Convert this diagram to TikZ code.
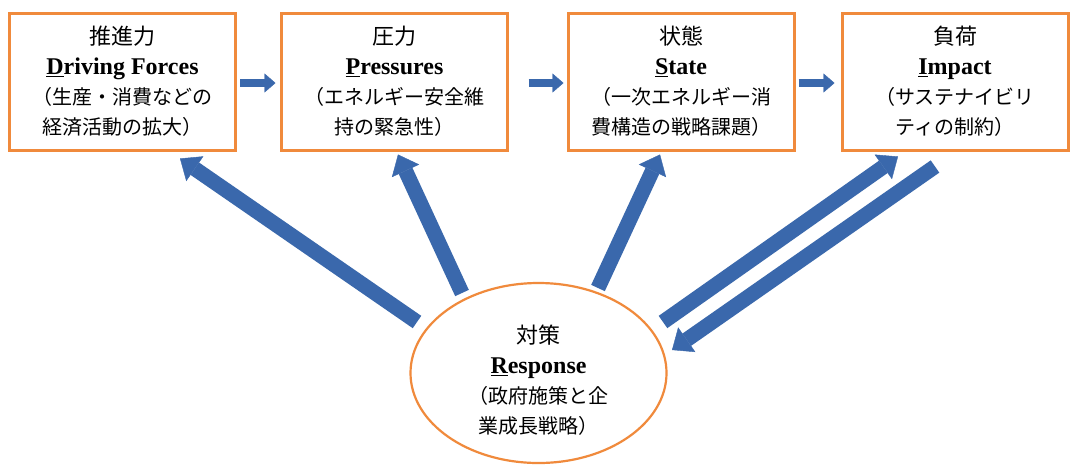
\documentclass[tikz,border=0pt]{standalone}
\usepackage{fontspec}
\setmainfont{Liberation Serif}
\newfontfamily\cjk{Noto Sans CJK JP}
\usetikzlibrary{arrows.meta,shapes.geometric,calc}
\definecolor{boxorange}{RGB}{240,138,60}
\definecolor{arrowblue}{RGB}{58,104,172}
\newcommand\jtitle[1]{{\fontsize{22}{30}\selectfont\cjk #1}}
\newcommand\etitle[1]{{\fontsize{24}{30}\selectfont\bfseries #1}}
\newcommand\jbody[1]{{\fontsize{20}{30}\selectfont\cjk #1}}
\tikzset{
  stagebox/.style={draw=boxorange, line width=3pt, fill=white,
    minimum width=226pt, minimum height=137pt, align=center, inner sep=0pt,
    font=\fontsize{20}{30}\selectfont},
  respell/.style={ellipse, draw=boxorange, line width=2.2pt, fill=white,
    minimum width=256pt, minimum height=180pt, inner sep=0pt},
  restext/.style={align=center, inner sep=0pt, font=\fontsize{20}{30}\selectfont},
  harrow/.style={draw=arrowblue, line width=7.5pt,
    -{Triangle[width=19pt,length=11pt,line width=0.4pt]}},
  darrow/.style={draw=arrowblue, line width=15pt,
    -{Triangle[width=30pt,length=18pt,line width=0.4pt]}}
}
\begin{document}
\begin{tikzpicture}
\useasboundingbox[fill=white] (0,0) rectangle (1073pt,-464pt);

\node[stagebox] (b1) at (122.5pt,-81.5pt)
  {\jtitle{推進力}\\\etitle{\underline{D}riving Forces}\\\jbody{（生産・消費などの}\\\jbody{経済活動の拡大）}};
\node[stagebox] (b2) at (394.5pt,-81.5pt)
  {\jtitle{圧力}\\\etitle{\underline{P}ressures}\\\jbody{（エネルギー安全維}\\\jbody{持の緊急性）}};
\node[stagebox] (b3) at (681pt,-81.5pt)
  {\jtitle{状態}\\\etitle{\underline{S}tate}\\\jbody{（一次エネルギー消}\\\jbody{費構造の戦略課題）}};
\node[stagebox] (b4) at (955pt,-81.5pt)
  {\jtitle{負荷}\\\etitle{\underline{I}mpact}\\\jbody{（サステナイビリ}\\\jbody{ティの制約）}};

\node[respell] (r) at (538.5pt,-373pt) {};
\node[restext] (rt) at ([yshift=-7pt]r.center)
  {\jtitle{対策}\\\etitle{\underline{R}esponse}\\\jbody{（政府施策と企}\\\jbody{業成長戦略）}};

% horizontal arrows
\draw[harrow, shorten <=3pt, shorten >=4.5pt] ([yshift=-1.5pt]b1.east) -- ([yshift=-1.5pt]b2.west);
\draw[harrow, shorten <=19.5pt, shorten >=3pt] ([yshift=-1.5pt]b2.east) -- ([yshift=-1.5pt]b3.west);
\draw[harrow, shorten <=3pt, shorten >=6pt] ([yshift=-1.5pt]b3.east) -- ([yshift=-1.5pt]b4.west);

% diagonal arrows
\coordinate (aT) at ([shift={(-121.5pt,51pt)}]r.center);
\coordinate (aH) at ([shift={(57.5pt,-7pt)}]b1.south);
\coordinate (bT) at ([shift={(-76.5pt,80pt)}]r.center);
\coordinate (bH) at ([shift={(3.5pt,-3pt)}]b2.south);
\coordinate (cT) at ([shift={(59.5pt,85pt)}]r.center);
\coordinate (cH) at ([shift={(-21pt,-3pt)}]b3.south);
\coordinate (dT) at ([shift={(124.5pt,51pt)}]r.center);
\coordinate (dH) at ([shift={(-57pt,-5pt)}]b4.south);
\coordinate (eT) at ([shift={(-20pt,-15pt)}]b4.south);
\coordinate (eH) at ([shift={(133.5pt,23pt)}]r.center);

\draw[darrow] (aT) -- (aH);
\draw[darrow] (bT) -- (bH);
\draw[darrow] (cT) -- (cH);
\draw[darrow] (dT) -- (dH);
\draw[darrow] (eT) -- (eH);
\end{tikzpicture}
\end{document}
